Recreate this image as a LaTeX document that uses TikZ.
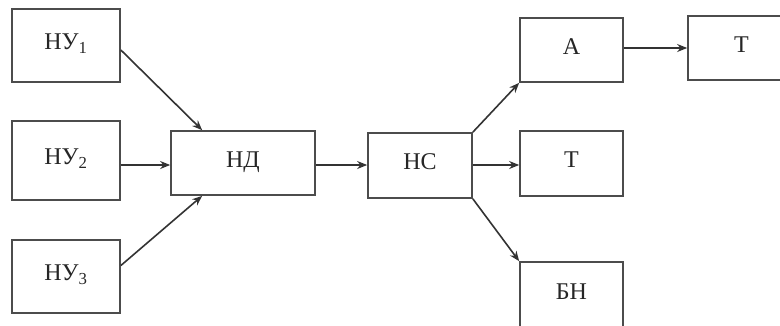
\documentclass[tikz,border=0pt]{standalone}
\usepackage{fontspec}
\setmainfont{Liberation Serif}
\usetikzlibrary{arrows.meta}
\begin{document}
\begin{tikzpicture}[x=1pt,y=-1pt,
  box/.style={draw=black!70, line width=1.7pt, fill=white, inner sep=0pt,
    text=black!85, font=\fontsize{24}{28}\selectfont, text height=16pt, text depth=8pt,
    minimum height=65pt, minimum width=103pt},
  link/.style={draw=black!80, line width=1.6pt, -{Stealth[length=10pt,width=8pt]}}]
  \useasboundingbox (0,0) rectangle (780,325);
  \clip (0,0) rectangle (780,325);
  \fill[white] (0,0) rectangle (780,325);

  % sources
  \node[box, minimum width=108pt, minimum height=73pt] (nu1) at (66,45.5) {НУ\textsubscript{1}};
  \node[box, minimum width=108pt, minimum height=79pt] (nu2) at (66,160.5) {НУ\textsubscript{2}};
  \node[box, minimum width=108pt, minimum height=73pt] (nu3) at (66,276.5) {НУ\textsubscript{3}};

  % chain
  \node[box, minimum width=144pt, minimum height=64pt] (nd) at (243,163) {НД};
  \node[box, minimum width=104pt] (ns) at (420,165.5) {НС};

  % outputs
  \node[box, minimum height=64pt] (a) at (571.5,50) {А};
  \node[box, minimum width=107pt, minimum height=64pt] (t2) at (741.5,48) {Т};
  \node[box] (t1) at (571.5,163.5) {Т};
  \node[box, minimum height=66pt] (bn) at (571.5,295) {БН};

  % connectors
  \draw[link] ([yshift=-4.5pt]nu1.east) -- ([xshift=32pt]nd.north west);
  \draw[link] ([yshift=-2pt]nd.west -| nu2.east) -- ([yshift=-2pt]nd.west);
  \draw[link] ([yshift=11pt]nu3.east) -- ([xshift=32pt]nd.south west);
  \draw[link] ([yshift=-2pt]nd.east) -- ([yshift=-2pt]nd.east -| ns.west);
  \draw[link] (ns.north east) -- (a.south west);
  \draw[link] ([yshift=-1.5pt]t1.west -| ns.east) -- ([yshift=-1.5pt]t1.west);
  \draw[link] (ns.south east) -- (bn.north west);
  \draw[link] (t2.west -| a.east) -- (t2.west);
\end{tikzpicture}
\end{document}
